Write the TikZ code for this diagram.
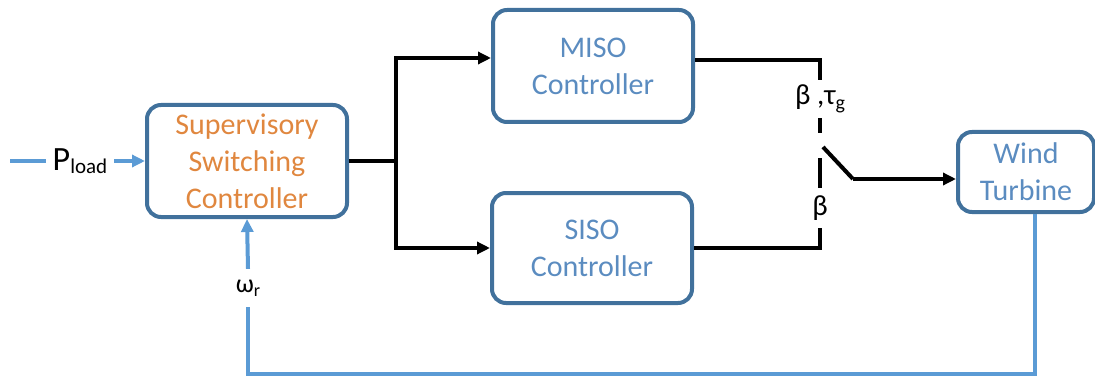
\documentclass[tikz,border=0pt]{standalone}
\usepackage{fontspec}
\setmainfont{Carlito}
\usetikzlibrary{arrows.meta,positioning}

\definecolor{boxline}{HTML}{41719C}
\definecolor{boxtext}{HTML}{5B8CC0}
\definecolor{suptext}{HTML}{E0873F}
\definecolor{sigline}{HTML}{5B9BD5}

\tikzset{
    block/.style={draw=boxline, line width=4pt, rounded corners=14pt, align=center,
        text=boxtext, font=\fontsize{30}{37}\selectfont, inner sep=0pt},
    wire/.style={line width=4pt},
    sig/.style={draw=sigline, line width=4pt},
    tip/.style={-{Triangle[length=13pt,width=12pt]}},
    lbl/.style={font=\fontsize{29}{29}\selectfont, inner sep=0pt}
}

\begin{document}
\begin{tikzpicture}[x=1pt, y=-1pt]
        \useasboundingbox ( 0, 0 ) rectangle ( 1095, 377 );

        % блоки
        \node [block, text=suptext, minimum width=200pt, minimum height=112pt] (sup) at ( 247, 161 ) {Supervisory\\Switching\\Controller};
        \node [block, minimum width=200pt, minimum height=112pt] (miso) at ( 593, 66 ) {MISO\\Controller};
        \node [block, minimum width=200pt, minimum height=110pt] (siso) at ( 592, 248 ) {SISO\\Controller};
        \node [block, minimum width=136pt, minimum height=80pt] (wt) at ( 1026, 172 ) {Wind\\Turbine};

        % подписи
        \node [lbl, font=\fontsize{34}{34}\selectfont, inner xsep=7pt] (pl) at ( 80, 161 ) {P{\fontsize{21}{21}\selectfont\raisebox{-3pt}{load}}};
        \node [lbl, font=\fontsize{26}{26}\selectfont, minimum height=38pt] (om) at ( 248, 288 ) {ω{\fontsize{18}{18}\selectfont\raisebox{-4pt}{r}}};
        \node [lbl, minimum height=38pt] (lbM) at ( 820, 99 ) {β ,τ{\fontsize{20}{20}\selectfont\raisebox{-5pt}{g}}};
        \node [lbl, minimum height=40pt] (lbS) at ( 820, 208 ) {β};

        % ключ
        \coordinate (in) at ( 10, 161 );
        \coordinate (br) at ( 396, 161 );
        \coordinate (upT) at ( 820, 133 );
        \coordinate (loT) at ( 820, 158 );
        \coordinate (bl) at ( 823, 147 );
        \coordinate (pv) at ( 853, 179 );
        \coordinate (fbL) at ( 248, 374 );

        % вход
        \draw [sig] (in) -- (pl);
        \draw [sig, tip] (pl) -- (sup);

        % разветвление
        \draw [wire] (sup) -- (br);
        \draw [wire, tip] (br) |- ([yshift=8pt]miso.west);
        \draw [wire, tip] (br) |- (siso.west);

        % выходы регуляторов
        \draw [wire] ([yshift=6pt]miso.east) -| (lbM.north);
        \draw [wire] (lbM.south) -- (upT);
        \draw [wire] (siso.east) -| (lbS.south);
        \draw [wire] (lbS.north) -- (loT);
        \draw [wire] (bl) -- (pv);
        \draw [wire, tip] (pv) -- (pv -| wt.west);

        % обратная связь
        \draw [sig] ([xshift=9pt]wt.south) |- (fbL) -- (om.south);
        \draw [sig, tip] (om.north) -- (sup.south);
    \end{tikzpicture}
\end{document}
